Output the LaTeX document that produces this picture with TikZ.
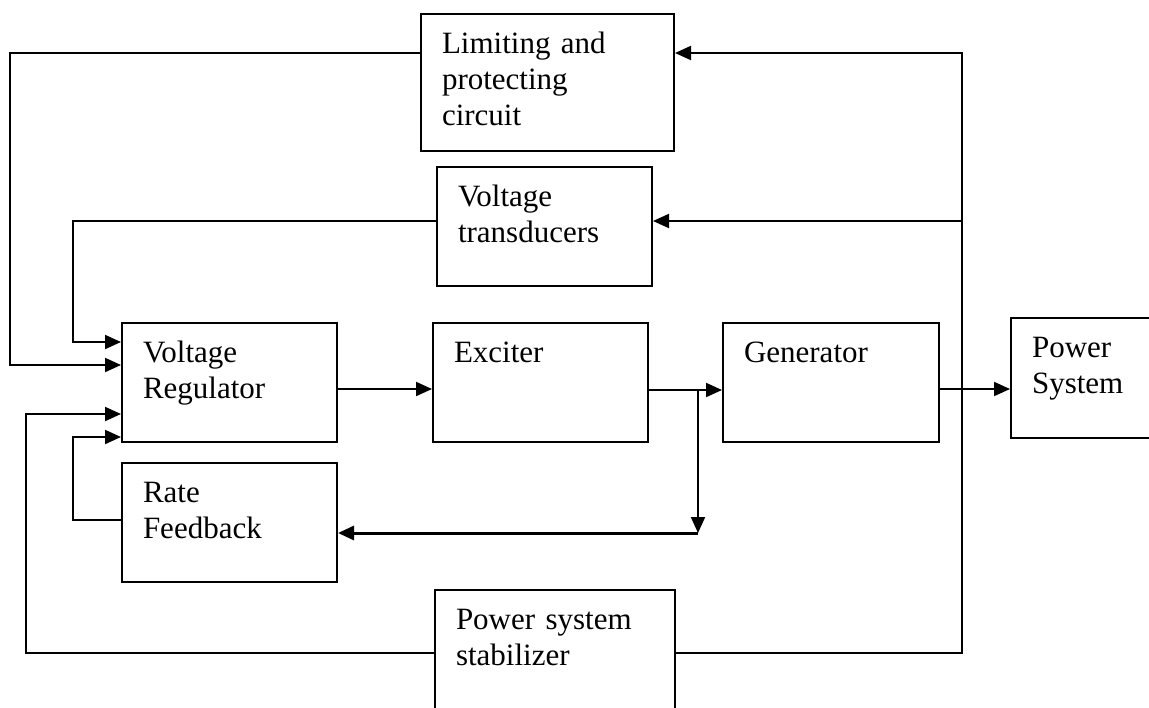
\documentclass[tikz,border=0pt]{standalone}
\usepackage{fontspec}
\setmainfont{Liberation Serif}
\usetikzlibrary{arrows.meta}

\tikzset{
  blk/.style 2 args={draw, line width=1pt, rectangle, anchor=north west, align=left,
    inner xsep=10.5pt, inner ysep=0pt, text height=19.5pt, text width=#1, text depth=#2,
    font=\fontsize{15.5}{18}\selectfont},
  arr/.style={-{Triangle[length=8pt,width=7pt]}, line width=1pt},
}

\begin{document}
\begin{tikzpicture}[x=0.5pt, y=-0.5pt]
			\useasboundingbox (0,0) rectangle (1149,707);
			\clip (0,0) rectangle (1149,707);
			\node[blk={105.5pt}{49pt}]  (lim) at (420,13)	{Limiting and\\protecting\\circuit};
			\node[blk={86.5pt}{40pt}]   (vt)  at (436,166)	{Voltage\\transducers};
			\node[blk={86.5pt}{40pt}]   (vr)  at (121,322)	{Voltage\\Regulator};
			\node[blk={86.5pt}{40pt}]   (exc) at (432,322)	{Exciter};
			\node[blk={87pt}{40pt}]     (gen) at (722,322)	{Generator};
			\node[blk={79pt}{40.5pt}]   (ps)  at (1010,317)	{Power\\System};
			\node[blk={86.5pt}{40pt}]   (rf)  at (121,462)	{Rate\\Feedback};
			\node[blk={99pt}{45.5pt}]   (pss) at (434,589)	{Power system\\stabilizer};
			%
			\coordinate (tap)    at (698,390);
			\coordinate (tapend) at (698,533);
			\coordinate (fb)     at (962,53);
			%
			\def\inputs {lim/53/10/365, vt/221/73/342, pss/653/26/414, rf/520/73/437}  % feedbacks into regulator
			\foreach \u/\ya/\x/\yb in \inputs
			{	\draw[arr] (\u.west |- 0,\ya) -| (\x,\yb) -- (vr.west |- 0,\yb);
			}
			\draw[arr] (vr.east |- 0,389) -- (exc.west |- 0,389);
			\draw[arr] (exc.east |- tap) -- (gen.west |- tap);
			\draw[arr] (gen.east |- 0,389) -- (ps.west |- 0,389);
			\draw[arr] (tap) -- (tapend);
			\draw[arr, line width=1.5pt] (tapend) -- (rf.east |- tapend);
			\draw[arr] (pss.east |- 0,653) -| (fb) -- (lim.east |- fb);
			\draw[arr] (fb |- 0,221) -- (vt.east |- 0,221);
		\end{tikzpicture}
\end{document}
